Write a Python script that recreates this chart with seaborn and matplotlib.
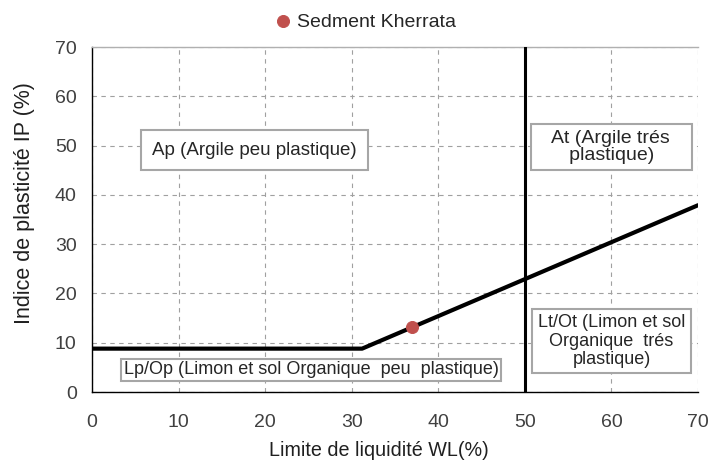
import matplotlib
matplotlib.use("Agg")
import matplotlib.pyplot as plt
import seaborn as sns
import pandas as pd

# A-line (Casagrande) points
aline_wl = [0, 31.2, 70]
aline_ip = [8.8, 8.8, 37.9]
# vertical limit WL = 50
limit_wl = [50, 50]
limit_ip = [0, 70]
# sample
sample_name = "Sedment Kherrata"
sample_wl = [37]
sample_ip = [13.2]

sns.set_style("white")
plt.rcParams['font.family'] = ['Liberation Sans', 'DejaVu Sans']

fig = plt.figure(figsize=(7.1, 4.62), dpi=100)
ax = fig.add_axes([0.1296, 0.1515, 0.8535, 0.7467])

sns.lineplot(x=aline_wl, y=aline_ip, ax=ax, color="black", linewidth=3,
             estimator=None, sort=False, zorder=3)
sns.lineplot(x=limit_wl, y=limit_ip, ax=ax, color="black", linewidth=2.2,
             estimator=None, sort=False, zorder=3)
pts = pd.DataFrame({"WL": sample_wl, "IP": sample_ip, "s": [sample_name]})
sns.scatterplot(data=pts, x="WL", y="IP", hue="s", palette=["#c0504d"], s=75,
                edgecolor="#c0504d", ax=ax, zorder=4)

ax.set_xlim(0, 70)
ax.set_ylim(0, 70)
ax.set_xticks(range(0, 71, 10))
ax.set_yticks(range(0, 71, 10))
ax.grid(True, color="#a0a0a0", linestyle=(0, (4, 4)), linewidth=0.8)
ax.spines["right"].set_visible(False)
ax.spines["top"].set_color("#b0b0b0")
ax.spines["top"].set_linewidth(1)
for s in ["left", "bottom"]:
    ax.spines[s].set_color("black")
    ax.spines[s].set_linewidth(1)
ax.tick_params(axis="both", direction="inout", length=8, width=1, colors="black",
               labelcolor="#404040", labelsize=14)
ax.tick_params(axis="x", pad=12)
ax.tick_params(axis="y", pad=7)
ax.set_xlabel("Limite de liquidité WL(%)", fontsize=14.2, color="#202020")
ax.set_ylabel("Indice de plasticité IP (%)", fontsize=15.5, color="#202020")
ax.xaxis.set_label_coords(0.474, -0.141)
ax.yaxis.set_label_coords(-0.094, 0.548)

ax.text(18.8, 49.1, "Ap (Argile peu plastique)", fontsize=13.5, ha="center", va="center",
        bbox=dict(boxstyle="square,pad=0.6", facecolor="white", edgecolor="#a6a6a6", linewidth=1.5), zorder=5)
ax.text(60, 49.7, "   At (Argile trés   \n   plastique)   ", fontsize=14, ha="center", va="center",
        linespacing=1.05,
        bbox=dict(boxstyle="square,pad=0.3", facecolor="white", edgecolor="#a6a6a6", linewidth=1.5), zorder=5)
ax.text(60, 10.3, "Lt/Ot (Limon et sol\nOrganique  trés\nplastique)", fontsize=13, ha="center", va="center",
        linespacing=1.1, bbox=dict(boxstyle="square,pad=0.3", facecolor="white", edgecolor="#a6a6a6", linewidth=1.5), zorder=5)
ax.text(25.3, 4.5, "Lp/Op (Limon et sol Organique  peu  plastique)", fontsize=13, ha="center", va="center",
        bbox=dict(boxstyle="square,pad=0.15", facecolor="white", edgecolor="#a6a6a6", linewidth=1.5), zorder=5)

ax.legend(loc="lower center", bbox_to_anchor=(0.45, 1.0), frameon=False, fontsize=14,
          handlelength=1.0, handletextpad=0.2, borderaxespad=0.4, markerscale=1.0)

fig.savefig("out.png", dpi=100)
